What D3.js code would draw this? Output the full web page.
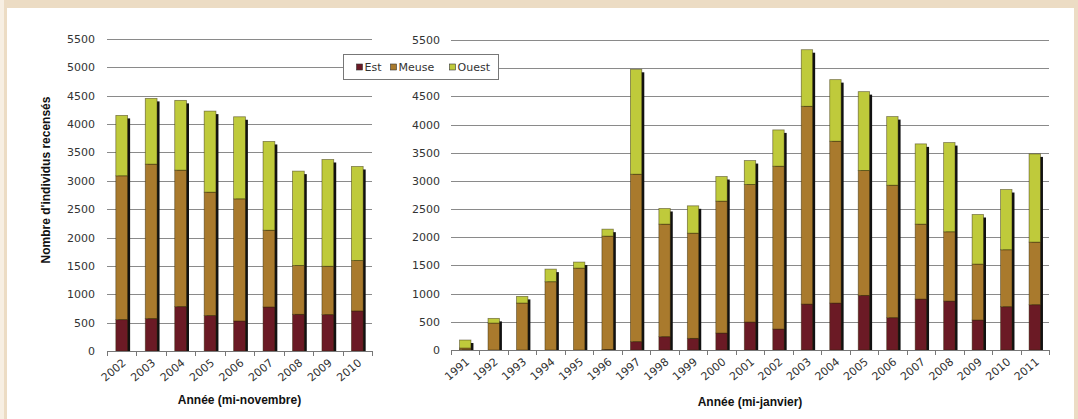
<!DOCTYPE html>
<html>
<head>
<meta charset="utf-8">
<script src="https://cdn.jsdelivr.net/npm/d3@7"></script>
<style>
  body { margin: 0; background: #fff; }
  svg { display: block; }
  .tick text, .xlab { font-family: "DejaVu Sans", Verdana, sans-serif; font-size: 11px; fill: #333; }
  .title { font-family: "Liberation Sans Narrow", "Arial Narrow", "Liberation Sans", sans-serif; font-weight: bold; font-size: 12px; fill: #111; }
</style>
</head>
<body>
<svg width="1078" height="419"></svg>
<script>
// left chart: mid-November counts
const novYears = ["2002","2003","2004","2005","2006","2007","2008","2009","2010"];
const novEst   = [553, 571, 782, 624, 529, 776, 647, 641, 706];
const novMeuse = [2535, 2723, 2406, 2176, 2153, 1353, 859, 853, 888];
const novOuest = [1065, 1159, 1230, 1429, 1447, 1565, 1665, 1882, 1659];

// right chart: mid-January counts
const janYears = ["1991","1992","1993","1994","1995","1996","1997","1998","1999","2000",
  "2001","2002","2003","2004","2005","2006","2007","2008","2009","2010","2011"];
const janEst   = [5, 0, 0, 0, 0, 10, 148, 236, 207, 301, 496, 372, 815, 833, 969, 573, 904, 868, 532, 768, 803];
const janMeuse = [30, 478, 833, 1211, 1453, 2010, 2971, 1997, 1866, 2340, 2440, 2889, 3509, 2871, 2215, 2351, 1329, 1229, 992, 1010, 1111];
const janOuest = [142, 83, 118, 224, 107, 124, 1861, 278, 485, 437, 425, 644, 1004, 1093, 1400, 1217, 1424, 1583, 880, 1069, 1565];

const yTicks = [0, 500, 1000, 1500, 2000, 2500, 3000, 3500, 4000, 4500, 5000, 5500];
// the right chart's 5000 label sits under the legend box
const yTicksJan = yTicks.filter(d => d !== 5000);
const seriesNames = ["Est", "Meuse", "Ouest"];
const colors = { Est: "#6b1a25", Meuse: "#a97a2d", Ouest: "#bfca3b" };

const svg = d3.select("svg");

// beige frame
svg.append("rect").attr("x", 0).attr("y", 0).attr("width", 1078).attr("height", 419).attr("fill", "#ecdcc4");
svg.append("rect").attr("x", 0).attr("y", 0).attr("width", 4).attr("height", 419).attr("fill", "#f7efe3");
svg.append("rect").attr("x", 7).attr("y", 8).attr("width", 1067).attr("height", 411).attr("fill", "#fff");

function drawChart(cfg) {
  const rows = cfg.years.map((y, i) => ({ year: y, Est: cfg.est[i], Meuse: cfg.meuse[i], Ouest: cfg.ouest[i] }));
  const x = d3.scaleBand().domain(cfg.years).range([cfg.x0, cfg.x1]).paddingInner(0.6).paddingOuter(0.3);
  const xb = d3.scaleBand().domain(cfg.years).range([cfg.x0, cfg.x1]);
  const y = d3.scaleLinear().domain([0, 5500]).range([cfg.y0, cfg.y1]);
  const g = svg.append("g");

  // gridlines
  g.selectAll(".grid").data(yTicks.slice(1)).join("line")
    .attr("x1", cfg.x0).attr("x2", cfg.x1)
    .attr("y1", d => Math.round(y(d)) + 0.5).attr("y2", d => Math.round(y(d)) + 0.5)
    .attr("stroke", "#8a8a8a").attr("stroke-width", 1);

  // y labels
  const ya = g.append("g").attr("transform", `translate(${cfg.x0},0)`)
    .call(d3.axisLeft(y).tickValues(cfg.ticks).tickFormat(d3.format("d"))
      .tickSize(0).tickPadding(cfg.x0 - cfg.labelX));
  ya.select(".domain").remove();

  const stack = d3.stack().keys(seriesNames)(rows);

  // shadows
  g.selectAll(".shadow").data(rows).join("rect")
    .attr("x", d => x(d.year) + 2.5)
    .attr("y", d => y(d.Est + d.Meuse + d.Ouest) + 3)
    .attr("width", x.bandwidth())
    .attr("height", d => y(0) - y(d.Est + d.Meuse + d.Ouest) - 3)
    .attr("fill", "#111");

  stack.forEach(s => {
    g.selectAll(null).data(s).join("rect")
      .attr("x", d => x(d.data.year))
      .attr("y", d => y(d[1]))
      .attr("width", x.bandwidth())
      .attr("height", d => Math.max(0, y(d[0]) - y(d[1])))
      .attr("fill", colors[s.key])
      .attr("stroke", "rgba(50,40,10,0.55)")
      .attr("stroke-width", 0.8);
  });

  // x axis line and ticks at band edges
  g.append("line").attr("x1", cfg.x0).attr("x2", cfg.x1)
    .attr("y1", cfg.y0 + 0.5).attr("y2", cfg.y0 + 0.5).attr("stroke", "#777");
  g.selectAll(".xtick").data(cfg.years.concat(["end"])).join("line")
    .attr("x1", (d, i) => Math.round(cfg.x0 + i * xb.step()) + 0.5)
    .attr("x2", (d, i) => Math.round(cfg.x0 + i * xb.step()) + 0.5)
    .attr("y1", cfg.y0).attr("y2", cfg.y0 + 5)
    .attr("stroke", "#777");

  // rotated year labels
  g.selectAll(".xlab").data(cfg.years).join("text")
    .attr("class", "xlab")
    .attr("text-anchor", "end")
    .attr("transform", d => `translate(${xb(d) + xb.bandwidth() / 2 + 5},${cfg.y0 + 13}) rotate(-40)`)
    .text(d => d);

  g.append("text").attr("class", "title")
    .attr("x", (cfg.x0 + cfg.x1) / 2).attr("y", cfg.titleY)
    .attr("text-anchor", "middle").text(cfg.title);
}

drawChart({ years: novYears, est: novEst, meuse: novMeuse, ouest: novOuest, ticks: yTicks,
  x0: 107, x1: 372, y0: 351, y1: 39, labelX: 95, title: "Année (mi-novembre)", titleY: 404 });
drawChart({ years: janYears, est: janEst, meuse: janMeuse, ouest: janOuest, ticks: yTicksJan,
  x0: 451, x1: 1049, y0: 350, y1: 40, labelX: 440, title: "Année (mi-janvier)", titleY: 406 });

// y title
svg.append("text").attr("class", "title")
  .attr("transform", "translate(50,180) rotate(-90)")
  .attr("text-anchor", "middle").text("Nombre d'individus recensés");

// legend
const lg = svg.append("g").attr("transform", "translate(343.5,54.5)");
lg.append("rect").attr("width", 155).attr("height", 25).attr("fill", "#fff").attr("stroke", "#777");
const legendX = [13, 47, 106];
seriesNames.forEach((k, i) => {
  lg.append("rect").attr("x", legendX[i]).attr("y", 9.5).attr("width", 6).attr("height", 6)
    .attr("fill", colors[k]).attr("stroke", "#333").attr("stroke-width", 0.6);
  lg.append("text").attr("x", legendX[i] + 8).attr("y", 16.5)
    .attr("font-family", "DejaVu Sans, Verdana, sans-serif").attr("font-size", 11)
    .attr("fill", "#333").text(k);
});
</script>
</body>
</html>
